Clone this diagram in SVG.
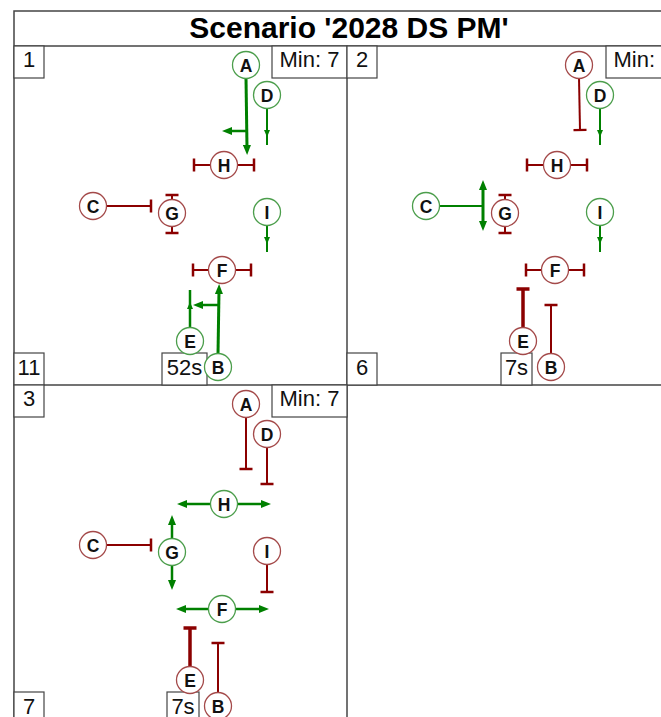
<svg xmlns="http://www.w3.org/2000/svg" width="661" height="717" viewBox="0 0 661 717">
<style>
.frame{fill:none;stroke:#444;stroke-width:1.5}
.box{fill:#fff;stroke:#444;stroke-width:1.2}
.lbl{font-family:"Liberation Sans",Arial,sans-serif;font-size:22px;fill:#111;text-anchor:middle}
.title{font-family:"Liberation Sans",Arial,sans-serif;font-size:30px;font-weight:bold;fill:#000;text-anchor:middle}
.ng circle{fill:#fff;stroke:#4c9e4c;stroke-width:1.3}
.nr circle{fill:#fff;stroke:#a44a4a;stroke-width:1.3}
.nt{font-family:"Liberation Sans",Arial,sans-serif;font-size:17.5px;font-weight:bold;fill:#111;text-anchor:middle}
.g{fill:none;stroke:#008000}
.r{fill:none;stroke:#8b0000}
</style>
<defs>
<marker id="ag" viewBox="0 0 10 8" refX="3" refY="4" markerWidth="10" markerHeight="8" orient="auto-start-reverse" markerUnits="userSpaceOnUse"><path d="M0,0L10,4L0,8z" fill="#008000"/></marker>
<marker id="am" viewBox="0 0 7 6" refX="7" refY="3" markerWidth="7" markerHeight="6" orient="auto" markerUnits="userSpaceOnUse"><path d="M0,0L7,3L0,6z" fill="#008000"/></marker>
<marker id="tee" viewBox="-2 -7 4 14" refX="0" refY="0" markerWidth="4" markerHeight="14" orient="auto" markerUnits="userSpaceOnUse"><path d="M0,-6.5V6.5" stroke="#8b0000" stroke-width="2.5"/></marker>
<marker id="teeb" viewBox="-2 -7 4 14" refX="0" refY="0" markerWidth="4" markerHeight="14" orient="auto" markerUnits="userSpaceOnUse"><path d="M0,-6.5V6.5" stroke="#8b0000" stroke-width="3.5"/></marker>
</defs>
<rect width="661" height="717" fill="#fff"/>
<g id="frame">
<rect class="frame" x="14" y="11" width="666" height="713"/>
<line class="frame" x1="14" y1="46" x2="680" y2="46"/>
<line class="frame" x1="14" y1="385" x2="680" y2="385"/>
<line class="frame" x1="347" y1="46" x2="347" y2="724"/>
<text class="title" x="349" y="38">Scenario '2028 DS PM'</text>
</g>

<!-- Panel 1 -->
<g id="panel1">
<g id="p1-boxes">
<rect class="box" x="14" y="46" width="30" height="32"/><text class="lbl" x="29" y="67">1</text>
<rect class="box" x="272" y="46" width="75" height="32"/><text class="lbl" x="309.5" y="67">Min: 7</text>
<rect class="box" x="14" y="353" width="30" height="32"/><text class="lbl" x="29" y="375">11</text>
<rect class="box" x="162" y="353" width="45" height="32"/><text class="lbl" x="184.5" y="375">52s</text>
</g>
<g id="p1-connectors">
<line class="g" stroke-width="3" x1="246" y1="78" x2="247" y2="148" marker-end="url(#ag)"/>
<line class="g" stroke-width="2.5" x1="247" y1="131" x2="229" y2="131" marker-end="url(#ag)"/>
<polyline class="g" stroke-width="2" points="267,108 267,137 267,145" marker-mid="url(#am)"/>
<line class="r" stroke-width="2" x1="211" y1="165" x2="194" y2="165" marker-end="url(#tee)"/>
<line class="r" stroke-width="2" x1="237" y1="165" x2="254" y2="165" marker-end="url(#tee)"/>
<line class="r" stroke-width="2" x1="107" y1="206" x2="151" y2="206" marker-end="url(#tee)"/>
<line class="r" stroke-width="2" x1="172" y1="200" x2="172" y2="195" marker-end="url(#tee)"/>
<line class="r" stroke-width="2" x1="172" y1="226" x2="172" y2="233" marker-end="url(#tee)"/>
<polyline class="g" stroke-width="2" points="267,225 267,244 267,252" marker-mid="url(#am)"/>
<line class="r" stroke-width="2" x1="209" y1="270" x2="193" y2="270" marker-end="url(#tee)"/>
<line class="r" stroke-width="2" x1="235" y1="270" x2="251" y2="270" marker-end="url(#tee)"/>
<line class="g" stroke-width="3" x1="218" y1="354" x2="219" y2="291" marker-end="url(#ag)"/>
<line class="g" stroke-width="2.5" x1="218" y1="305" x2="200" y2="305" marker-end="url(#ag)"/>
<polyline class="g" stroke-width="2.5" points="190,328 190,302 190,290" marker-mid="url(#am)"/>
</g>
<g id="p1-A" class="ng"><circle cx="246" cy="65" r="13.5"/><text class="nt" x="246" y="71.5">A</text></g>
<g id="p1-D" class="ng"><circle cx="267" cy="95" r="13.5"/><text class="nt" x="267" y="101.5">D</text></g>
<g id="p1-H" class="nr"><circle cx="224" cy="165" r="13.5"/><text class="nt" x="224" y="171.5">H</text></g>
<g id="p1-C" class="nr"><circle cx="93" cy="206" r="13.5"/><text class="nt" x="93" y="212.5">C</text></g>
<g id="p1-G" class="nr"><circle cx="172" cy="213" r="13.5"/><text class="nt" x="172" y="219.5">G</text></g>
<g id="p1-I" class="ng"><circle cx="267" cy="212" r="13.5"/><text class="nt" x="267" y="218.5">I</text></g>
<g id="p1-F" class="nr"><circle cx="222" cy="270" r="13.5"/><text class="nt" x="222" y="276.5">F</text></g>
<g id="p1-E" class="ng"><circle cx="190" cy="341" r="13.5"/><text class="nt" x="190" y="347.5">E</text></g>
<g id="p1-B" class="ng"><circle cx="218" cy="367" r="13.5"/><text class="nt" x="218" y="373.5">B</text></g>
</g>

<!-- Panel 2 -->
<g id="panel2" transform="translate(333,0)">
<g id="p2-boxes">
<rect class="box" x="14" y="46" width="30" height="32"/><text class="lbl" x="29" y="67">2</text>
<rect class="box" x="273" y="46" width="75" height="32"/><text class="lbl" x="310.5" y="67">Min: 7</text>
<rect class="box" x="14" y="353" width="30" height="32"/><text class="lbl" x="29" y="375">6</text>
<rect class="box" x="168" y="353" width="31" height="32"/><text class="lbl" x="183.5" y="375">7s</text>
</g>
<g id="p2-connectors">
<line class="r" stroke-width="2" x1="246" y1="78" x2="247" y2="130" marker-end="url(#tee)"/>
<polyline class="g" stroke-width="2" points="267,108 267,137 267,145" marker-mid="url(#am)"/>
<line class="r" stroke-width="2" x1="211" y1="165" x2="194" y2="165" marker-end="url(#tee)"/>
<line class="r" stroke-width="2" x1="237" y1="165" x2="254" y2="165" marker-end="url(#tee)"/>
<line class="g" stroke-width="2" x1="107" y1="206" x2="150" y2="206"/>
<line class="g" stroke-width="3" x1="150" y1="187" x2="150" y2="224" marker-start="url(#ag)" marker-end="url(#ag)"/>
<line class="r" stroke-width="2" x1="172" y1="200" x2="172" y2="195" marker-end="url(#tee)"/>
<line class="r" stroke-width="2" x1="172" y1="226" x2="172" y2="233" marker-end="url(#tee)"/>
<polyline class="g" stroke-width="2" points="267,225 267,244 267,252" marker-mid="url(#am)"/>
<line class="r" stroke-width="2" x1="209" y1="270" x2="193" y2="270" marker-end="url(#tee)"/>
<line class="r" stroke-width="2" x1="235" y1="270" x2="251" y2="270" marker-end="url(#tee)"/>
<line class="r" stroke-width="3.5" x1="190" y1="328" x2="190" y2="289" marker-end="url(#teeb)"/>
<line class="r" stroke-width="2" x1="218" y1="354" x2="218" y2="305" marker-end="url(#tee)"/>
</g>
<g id="p2-A" class="nr"><circle cx="246" cy="65" r="13.5"/><text class="nt" x="246" y="71.5">A</text></g>
<g id="p2-D" class="ng"><circle cx="267" cy="95" r="13.5"/><text class="nt" x="267" y="101.5">D</text></g>
<g id="p2-H" class="nr"><circle cx="224" cy="165" r="13.5"/><text class="nt" x="224" y="171.5">H</text></g>
<g id="p2-C" class="ng"><circle cx="93" cy="206" r="13.5"/><text class="nt" x="93" y="212.5">C</text></g>
<g id="p2-G" class="nr"><circle cx="172" cy="213" r="13.5"/><text class="nt" x="172" y="219.5">G</text></g>
<g id="p2-I" class="ng"><circle cx="267" cy="212" r="13.5"/><text class="nt" x="267" y="218.5">I</text></g>
<g id="p2-F" class="nr"><circle cx="222" cy="270" r="13.5"/><text class="nt" x="222" y="276.5">F</text></g>
<g id="p2-E" class="nr"><circle cx="190" cy="341" r="13.5"/><text class="nt" x="190" y="347.5">E</text></g>
<g id="p2-B" class="nr"><circle cx="218" cy="367" r="13.5"/><text class="nt" x="218" y="373.5">B</text></g>
</g>

<!-- Panel 3 -->
<g id="panel3" transform="translate(0,339)">
<g id="p3-boxes">
<rect class="box" x="14" y="46" width="30" height="32"/><text class="lbl" x="29" y="67">3</text>
<rect class="box" x="272" y="46" width="75" height="32"/><text class="lbl" x="309.5" y="67">Min: 7</text>
<rect class="box" x="14" y="353" width="30" height="32"/><text class="lbl" x="29" y="375">7</text>
<rect class="box" x="167" y="353" width="32" height="32"/><text class="lbl" x="183" y="375">7s</text>
</g>
<g id="p3-connectors">
<line class="r" stroke-width="2" x1="246" y1="78" x2="246" y2="130" marker-end="url(#tee)"/>
<line class="r" stroke-width="2" x1="267" y1="108" x2="267" y2="145" marker-end="url(#tee)"/>
<line class="g" stroke-width="2.5" x1="211" y1="165" x2="184" y2="165" marker-end="url(#ag)"/>
<line class="g" stroke-width="2.5" x1="237" y1="165" x2="264" y2="165" marker-end="url(#ag)"/>
<line class="r" stroke-width="2" x1="107" y1="206" x2="151" y2="206" marker-end="url(#tee)"/>
<line class="g" stroke-width="2.5" x1="172" y1="200" x2="172" y2="183" marker-end="url(#ag)"/>
<line class="g" stroke-width="2.5" x1="172" y1="226" x2="172" y2="244" marker-end="url(#ag)"/>
<line class="r" stroke-width="2" x1="267" y1="225" x2="267" y2="253" marker-end="url(#tee)"/>
<line class="g" stroke-width="2.5" x1="209" y1="270" x2="183" y2="270" marker-end="url(#ag)"/>
<line class="g" stroke-width="2.5" x1="235" y1="270" x2="262" y2="270" marker-end="url(#ag)"/>
<line class="r" stroke-width="3.5" x1="190" y1="328" x2="190" y2="289" marker-end="url(#teeb)"/>
<line class="r" stroke-width="2" x1="218" y1="354" x2="218" y2="304" marker-end="url(#tee)"/>
</g>
<g id="p3-A" class="nr"><circle cx="246" cy="65" r="13.5"/><text class="nt" x="246" y="71.5">A</text></g>
<g id="p3-D" class="nr"><circle cx="267" cy="95" r="13.5"/><text class="nt" x="267" y="101.5">D</text></g>
<g id="p3-H" class="ng"><circle cx="224" cy="165" r="13.5"/><text class="nt" x="224" y="171.5">H</text></g>
<g id="p3-C" class="nr"><circle cx="93" cy="206" r="13.5"/><text class="nt" x="93" y="212.5">C</text></g>
<g id="p3-G" class="ng"><circle cx="172" cy="213" r="13.5"/><text class="nt" x="172" y="219.5">G</text></g>
<g id="p3-I" class="nr"><circle cx="267" cy="212" r="13.5"/><text class="nt" x="267" y="218.5">I</text></g>
<g id="p3-F" class="ng"><circle cx="222" cy="270" r="13.5"/><text class="nt" x="222" y="276.5">F</text></g>
<g id="p3-E" class="nr"><circle cx="190" cy="341" r="13.5"/><text class="nt" x="190" y="347.5">E</text></g>
<g id="p3-B" class="nr"><circle cx="218" cy="367" r="13.5"/><text class="nt" x="218" y="373.5">B</text></g>
</g>
</svg>
